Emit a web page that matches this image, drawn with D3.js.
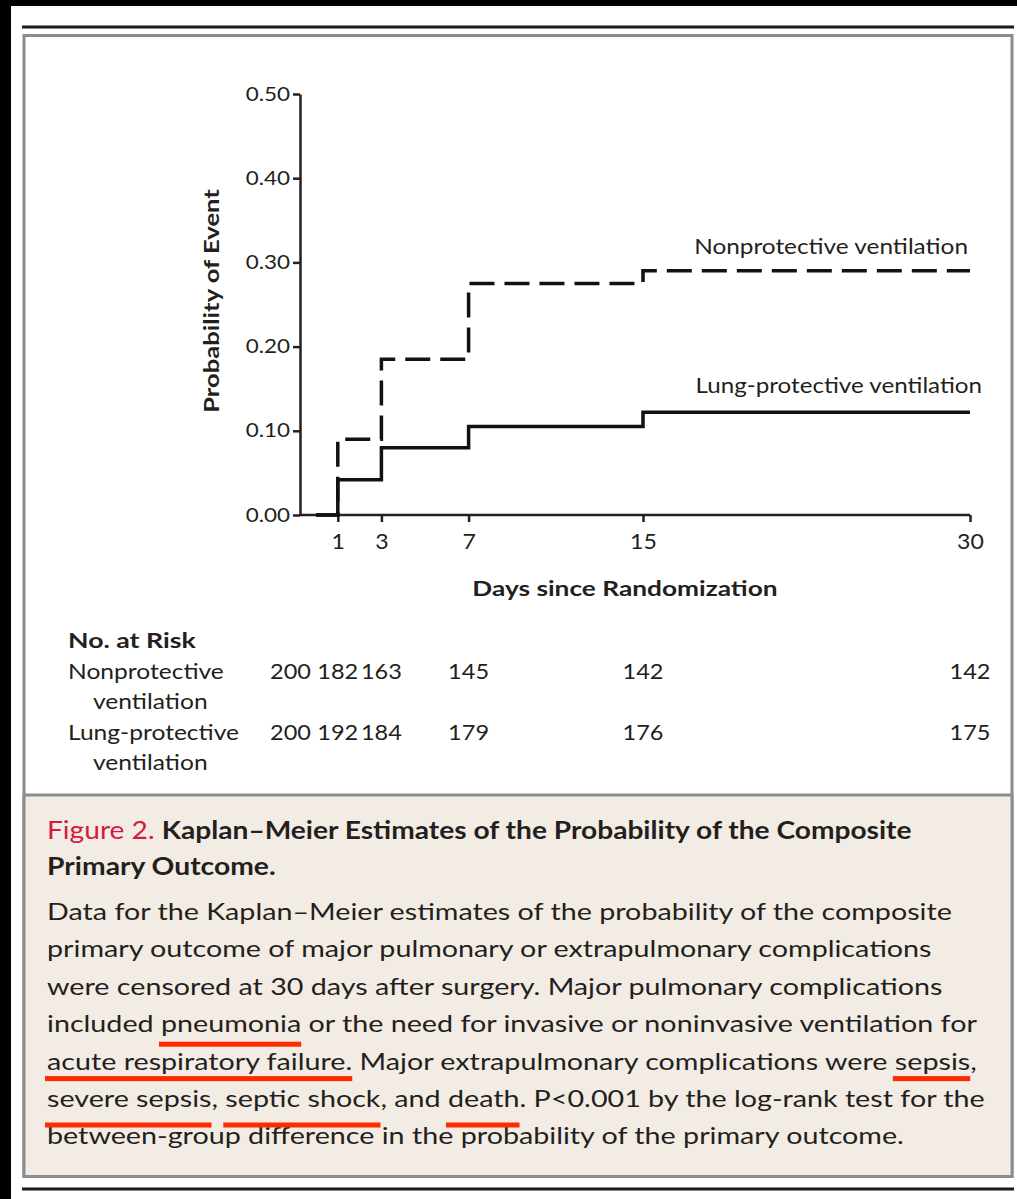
<!DOCTYPE html>
<html>
<head>
<meta charset="utf-8">
<script src="https://cdn.jsdelivr.net/npm/d3@7"></script>
<style>
  body { margin: 0; background: #fff; }
  svg { display: block; }
  text { font-family: Lato, "Open Sans", sans-serif; fill: #231f20; }
  .axis text { font-size: 19px; }
  .axis path, .axis line { stroke: #231f20; stroke-width: 2.5px; }
</style>
</head>
<body>
<script>
//chart values
var days = [0, 1, 3, 7, 15, 30];
var nonprotective = [0, 0.09, 0.185, 0.275, 0.29, 0.29];
var lungProtective = [0, 0.042, 0.08, 0.105, 0.122, 0.122];

var yTicks = [0, 0.1, 0.2, 0.3, 0.4, 0.5];
var xTicks = [1, 3, 7, 15, 30];

var riskDays = [0, 1, 3, 7, 15, 30];
var riskNonprotective = [200, 182, 163, 145, 142, 142];
var riskLungProtective = [200, 192, 184, 179, 176, 175];

var captionTitle = ["Kaplan\u2013Meier Estimates of the Probability of the Composite", "Primary Outcome."];
var captionBody = [
    "Data for the Kaplan\u2013Meier estimates of the probability of the composite",
    "primary outcome of major pulmonary or extrapulmonary complications",
    "were censored at 30 days after surgery. Major pulmonary complications",
    "included pneumonia or the need for invasive or noninvasive ventilation for",
    "acute respiratory failure. Major extrapulmonary complications were sepsis,",
    "severe sepsis, septic shock, and death. P<0.001 by the log-rank test for the",
    "between-group difference in the probability of the primary outcome."
];
//red marks under words: [line, word, drop below baseline]
var marks = [
    [3, "pneumonia", 12],
    [4, "acute respiratory failure.", 9],
    [4, "sepsis", 9],
    [5, "severe sepsis", 18],
    [5, "septic shock", 18],
    [5, "death", 18]
];

var width = 1017,
    height = 1199;

var svg = d3.select("body")
    .append("svg")
    .attr("width", width)
    .attr("height", height);

//the journal font is wider than Lato, so stretch text sideways to match
function stretch(sel, k){
    sel.each(function(){
        var w = this.getComputedTextLength();
        d3.select(this)
            .attr("textLength", w * k)
            .attr("lengthAdjust", "spacingAndGlyphs");
    });
}

//page frame
svg.append("rect").attr("x", 0).attr("y", 0).attr("width", width).attr("height", 6).attr("fill", "#000");
svg.append("rect").attr("x", 0).attr("y", 0).attr("width", 11).attr("height", height).attr("fill", "#000");
svg.append("line").attr("x1", 22).attr("x2", 1014).attr("y1", 27).attr("y2", 27)
    .attr("stroke", "#1a1a1a").attr("stroke-width", 3);
svg.append("line").attr("x1", 22).attr("x2", 1014).attr("y1", 1189).attr("y2", 1189)
    .attr("stroke", "#1a1a1a").attr("stroke-width", 3);
svg.append("rect").attr("x", 24).attr("y", 35.5).attr("width", 988).attr("height", 1141)
    .attr("fill", "#fff").attr("stroke", "#8c8c8c").attr("stroke-width", 3);
svg.append("rect").attr("x", 24).attr("y", 795).attr("width", 988).attr("height", 381.5)
    .attr("fill", "#f3ece5").attr("stroke", "#8c8c8c").attr("stroke-width", 3);

//scales
var x = d3.scaleLinear().domain([0, 30]).range([316, 970]);
var y = d3.scaleLinear().domain([0, 0.5]).range([515, 94]);

//y axis
var yAxis = svg.append("g")
    .attr("class", "axis")
    .attr("transform", "translate(300,0)")
    .call(d3.axisLeft(y).tickValues(yTicks).tickFormat(d3.format(".2f")).tickSize(7).tickSizeOuter(0).tickPadding(3));
stretch(yAxis.selectAll(".tick text"), 1.18);

//x axis, the line runs back to the y axis
var xAxis = svg.append("g")
    .attr("class", "axis")
    .attr("transform", "translate(0,515)")
    .call(d3.axisBottom(x).tickValues(xTicks).tickSize(7).tickSizeOuter(0).tickPadding(12));
xAxis.select(".domain").attr("d", "M300,0H" + x(30));
xAxis.selectAll(".tick text").style("font-size", "21px");
stretch(xAxis.selectAll(".tick text"), 1.1);

stretch(svg.append("text")
    .attr("transform", "translate(219,301) rotate(-90)")
    .attr("text-anchor", "middle")
    .style("font-size", "20px")
    .style("font-weight", "bold")
    .text("Probability of Event"), 1.28);

stretch(svg.append("text")
    .attr("x", 625)
    .attr("y", 596)
    .attr("text-anchor", "middle")
    .style("font-size", "21px")
    .style("font-weight", "bold")
    .text("Days since Randomization"), 1.25);

//step curves
var line = d3.line()
    .x(function(d){ return x(d[0]); })
    .y(function(d){ return y(d[1]); })
    .curve(d3.curveStepAfter);

svg.append("path")
    .datum(d3.zip(days, lungProtective))
    .attr("d", line)
    .attr("fill", "none")
    .attr("stroke", "#111")
    .attr("stroke-width", 3.5);

svg.append("path")
    .datum(d3.zip(days, nonprotective))
    .attr("d", line)
    .attr("fill", "none")
    .attr("stroke", "#111")
    .attr("stroke-width", 3.5)
    .attr("stroke-dasharray", "25,10");

stretch(svg.append("text")
    .attr("x", 968).attr("y", 254)
    .attr("text-anchor", "end")
    .style("font-size", "21px")
    .text("Nonprotective ventilation"), 1.16);

stretch(svg.append("text")
    .attr("x", 982).attr("y", 393)
    .attr("text-anchor", "end")
    .style("font-size", "21px")
    .text("Lung-protective ventilation"), 1.15);

//numbers at risk
stretch(svg.append("text")
    .attr("x", 68).attr("y", 648)
    .style("font-size", "21px")
    .style("font-weight", "bold")
    .text("No. at Risk"), 1.27);

var rows = [
    {name: ["Nonprotective", "ventilation"], values: riskNonprotective, y: 679},
    {name: ["Lung-protective", "ventilation"], values: riskLungProtective, y: 740}
];

rows.forEach(function(row){
    stretch(svg.append("text").attr("x", 68).attr("y", row.y).style("font-size", "21px").text(row.name[0]), 1.17);
    stretch(svg.append("text").attr("x", 93).attr("y", row.y + 30).style("font-size", "21px").text(row.name[1]), 1.17);
    stretch(svg.selectAll(null)
        .data(d3.zip(riskDays, row.values))
        .enter()
        .append("text")
        .attr("x", function(d){ return d[0] === 0 ? x(0) - 5 : x(d[0]); })
        .attr("y", row.y)
        .attr("text-anchor", function(d){ return d[0] === 0 ? "end" : "middle"; })
        .style("font-size", "21px")
        .text(function(d){ return d[1]; }), 1.12);
});

//caption
var title = svg.append("text")
    .attr("x", 47).attr("y", 839)
    .style("font-size", "25px")
    .style("font-weight", "bold");
title.append("tspan").style("fill", "#d7193f").style("font-weight", "normal").text("Figure 2. ");
title.append("tspan").text(captionTitle[0]);
stretch(title, 1.125);
stretch(svg.append("text")
    .attr("x", 47).attr("y", 875)
    .style("font-size", "25px")
    .style("font-weight", "bold")
    .text(captionTitle[1]), 1.13);

var bodyK = 1.195;
var bodyLines = svg.selectAll(".body")
    .data(captionBody)
    .enter()
    .append("text")
    .attr("class", "body")
    .attr("x", 47)
    .attr("y", function(d, i){ return 920 + i * 37.4; })
    .style("font-size", "24px")
    .text(function(d){ return d; });

//measure the marked words before the lines are stretched
var markRects = marks.map(function(m){
    var node = bodyLines.nodes()[m[0]],
        i = captionBody[m[0]].indexOf(m[1]);
    return {
        x: 47 + bodyK * (i > 0 ? node.getSubStringLength(0, i) : 0),
        w: bodyK * node.getSubStringLength(i, m[1].length),
        y: 920 + m[0] * 37.4 + m[2]
    };
});
stretch(bodyLines, bodyK);

svg.selectAll(".mark")
    .data(markRects)
    .enter()
    .append("rect")
    .attr("class", "mark")
    .attr("x", function(d){ return d.x - 2; })
    .attr("y", function(d){ return d.y - 2.5; })
    .attr("width", function(d){ return d.w + 2; })
    .attr("height", 5)
    .attr("fill", "#ff2a00");
</script>
</body>
</html>
